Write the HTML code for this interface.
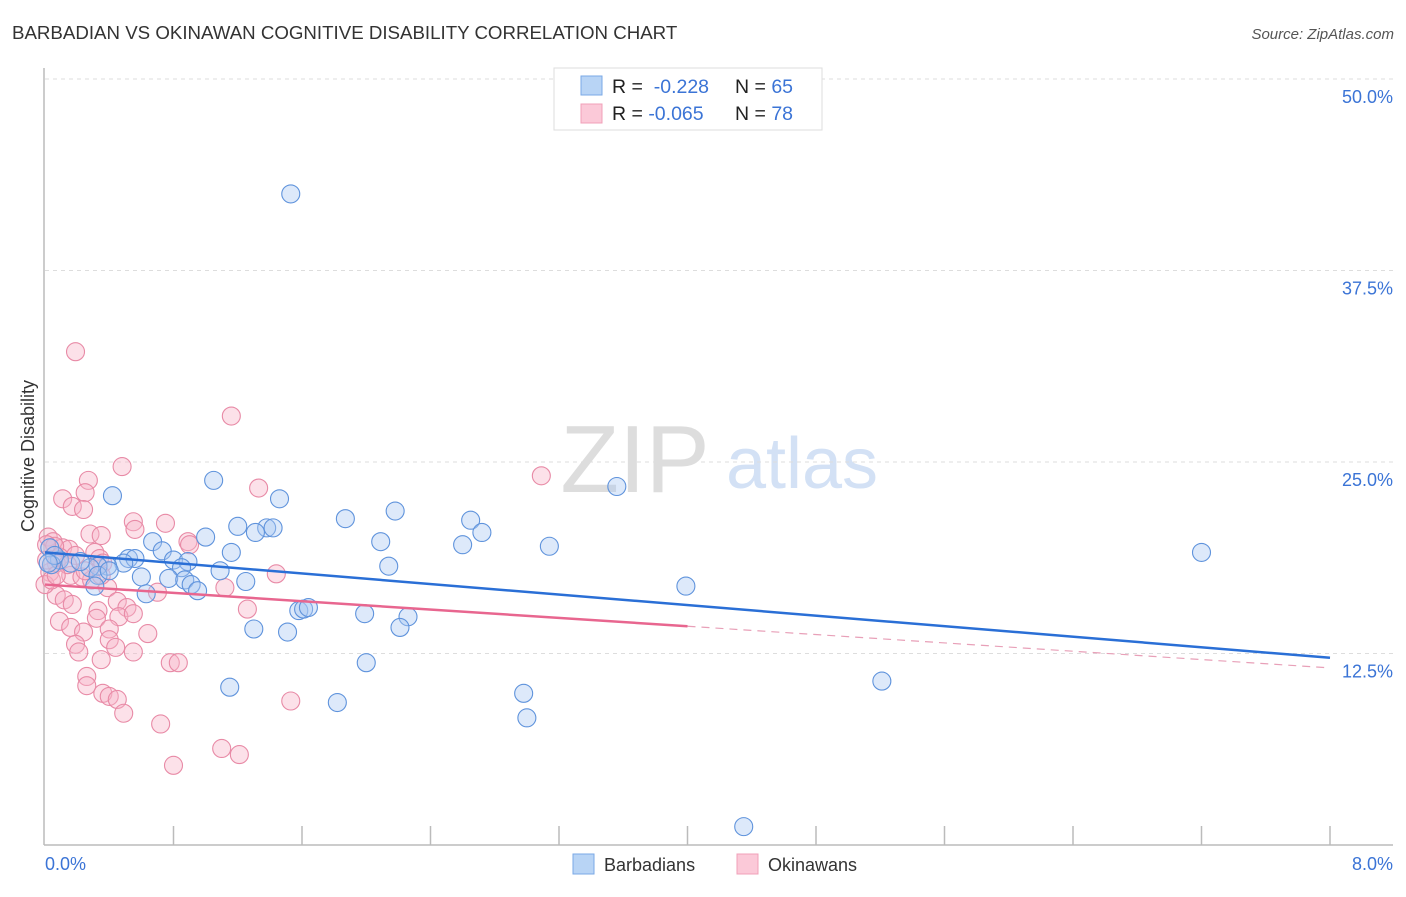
<!DOCTYPE html>
<html><head><meta charset="utf-8"><style>
body{margin:0;background:#fff;font-family:"Liberation Sans",sans-serif;}
svg text{font-family:"Liberation Sans",sans-serif;}
</style></head><body>
<svg id="chart" width="1406" height="892">
<text x="12" y="39" font-size="18.7" fill="#333">BARBADIAN VS OKINAWAN COGNITIVE DISABILITY CORRELATION CHART</text>
<text x="1394" y="39" font-size="15" fill="#555" font-style="italic" text-anchor="end">Source: ZipAtlas.com</text>
<text transform="translate(34,456) rotate(-90)" font-size="18" fill="#333" text-anchor="middle">Cognitive Disability</text>
<text x="635" y="492" font-size="96" fill="#ddd" font-family="Liberation Serif" text-anchor="middle">ZIP</text>
<text x="802" y="488" font-size="72" fill="#d3e1f5" text-anchor="middle">atlas</text>
<g id="grid"></g><g id="axes"></g><g id="pts"></g><g id="lines"></g>
<g>
<rect x="554" y="68" width="268" height="62" fill="#fff" stroke="#ddd"/>
<rect x="581" y="76" width="21" height="19" fill="#b8d4f5" stroke="#7aa8e6"/>
<rect x="581" y="104" width="21" height="19" fill="#fbc9d8" stroke="#f0a0b8"/>
<text x="612" y="93" font-size="19.5" fill="#222">R = <tspan fill="#3b74d6">&#160;-0.228</tspan><tspan x="735">N = </tspan><tspan fill="#3b74d6">65</tspan></text>
<text x="612" y="120" font-size="19.5" fill="#222">R = <tspan fill="#3b74d6">-0.065</tspan><tspan x="735">N = </tspan><tspan fill="#3b74d6">78</tspan></text>
</g>
<g>
<rect x="573" y="854" width="21" height="20" fill="#b8d4f5" stroke="#7aa8e6"/>
<text x="604" y="871" font-size="18" fill="#333">Barbadians</text>
<rect x="737" y="854" width="21" height="20" fill="#fbc9d8" stroke="#f0a0b8"/>
<text x="768" y="871" font-size="18" fill="#333">Okinawans</text>
</g>
</svg>
<script>
const yTicks=[12.5,25,37.5,50];
const yTickLabels=["12.5%","25.0%","37.5%","50.0%"];
const xTickCount=10;
const xLabels=["0.0%","8.0%"];
const blueX=[1.53,0.42,1.05,3.56,1.46,1.20,1.38,1.42,1.31,1.87,2.18,2.65,2.72,2.60,3.14,2.09,1.00,1.16,0.67,0.73,0.52,0.56,0.49,0.80,0.89,0.85,1.09,0.39,0.33,0.28,0.09,0.04,2.14,0.60,0.77,0.87,0.91,0.95,0.63,1.25,0.33,0.31,3.99,1.58,1.61,1.64,1.99,2.26,1.30,1.51,2.21,2.00,1.15,1.82,2.98,3.00,5.21,7.20,4.35,0.03,0.06,0.02,0.16,0.22,0.40];
const blueY=[42.5,22.8,23.8,23.4,22.6,20.8,20.7,20.7,20.4,21.3,21.8,21.2,20.4,19.6,19.5,19.8,20.1,19.1,19.8,19.2,18.7,18.7,18.4,18.6,18.5,18.1,17.9,18.2,18.2,18.1,18.6,18.3,18.2,17.5,17.4,17.3,17.0,16.6,16.4,17.2,17.6,16.9,16.9,15.3,15.4,15.5,15.1,14.9,14.1,13.9,14.2,11.9,10.3,9.3,9.9,8.3,10.7,19.1,1.2,19.4,18.9,18.4,18.4,18.5,17.9];
const pinkX=[0.19,1.16,0.48,3.09,0.27,1.33,0.11,0.25,0.17,0.24,0.55,0.75,0.56,0.28,0.35,0.89,0.90,0.02,0.05,0.11,0.15,0.19,0.31,0.34,0.36,0.09,0.07,0.03,0.16,0.23,0.29,1.44,0.39,1.12,0.70,0.07,0.12,0.17,0.45,0.33,0.51,0.46,0.55,1.26,0.09,0.16,0.24,0.32,0.40,0.64,0.19,0.40,0.21,0.44,0.55,0.35,0.78,0.83,0.26,0.26,0.36,0.40,0.45,0.49,1.53,0.72,1.10,1.21,0.80,0.06,0.01,0.00,0.04,0.14,0.25,0.35,0.01,0.07];
const pinkY=[32.2,28.0,24.7,24.1,23.8,23.3,22.6,23.0,22.1,21.9,21.1,21.0,20.6,20.3,20.2,19.8,19.6,20.1,19.8,19.4,19.3,18.9,19.1,18.7,18.4,18.8,18.4,17.8,17.6,17.5,17.3,17.7,16.8,16.8,16.5,16.3,16.0,15.7,15.9,15.3,15.5,14.9,15.1,15.4,14.6,14.2,13.9,14.8,14.1,13.8,13.1,13.4,12.6,12.9,12.6,12.1,11.9,11.9,11.0,10.4,9.9,9.7,9.5,8.6,9.4,7.9,6.3,5.9,5.2,19.5,19.6,17.0,17.3,18.3,17.9,17.6,18.6,17.6];
const blueTrend=[19.1,-0.86];
const pinkTrend=[17.0,-0.68];
const pinkSolidEnd=4.0;
const X0=45,X1=1330,Y0=845,Y50=79;
const sx=v=>X0+(X1-X0)*v/8;
const sy=v=>Y0-(Y0-Y50)*v/50;
const NS="http://www.w3.org/2000/svg";
function mk(t,a,p){const e=document.createElementNS(NS,t);for(const k in a)e.setAttribute(k,a[k]);p.appendChild(e);return e;}
const grid=document.getElementById('grid'),axes=document.getElementById('axes'),pts=document.getElementById('pts'),lines=document.getElementById('lines');
yTicks.forEach((t,i)=>{
 const g=mk('line',{x1:X0,x2:1393,y1:sy(t),y2:sy(t),stroke:'#ddd','stroke-dasharray':'4,4'},grid);
 
 
 const l=mk('text',{x:1393,y:sy(t)+24,'font-size':18,fill:'#3b74d6','text-anchor':'end'},axes);
 l.textContent=yTickLabels[i];
 
 
});
const ya=mk('line',{x1:X0-1,x2:X0-1,y1:68,y2:Y0,stroke:'#bbb','stroke-width':1.5},axes);


const xa=mk('line',{x1:X0-1,x2:1393,y1:Y0,y2:Y0,stroke:'#bbb','stroke-width':1.5},axes);


for(let i=1;i<=xTickCount;i++){
 const t=mk('line',{x1:sx(i*0.8),x2:sx(i*0.8),y1:826,y2:Y0,stroke:'#bbb','stroke-width':1.5},axes);
 
 
}
const xl0=mk('text',{x:45,y:870,'font-size':18,fill:'#3b74d6'},axes);xl0.textContent=xLabels[0];


const xl1=mk('text',{x:1393,y:870,'font-size':18,fill:'#3b74d6','text-anchor':'end'},axes);xl1.textContent=xLabels[1];


function dots(xs,ys,fill,stroke,name){xs.forEach((x,i)=>{
 const c=mk('circle',{cx:sx(x),cy:sy(ys[i]),r:9,fill:fill,'fill-opacity':0.4,stroke:stroke,'stroke-width':1.1},pts);
 
 
});}
dots(pinkX,pinkY,'#f7b3c7','#e88aa6','okinawan-point');
dots(blueX,blueY,'#a9c9f2','#5f93dc','barbadian-point');
const bl=mk('line',{x1:sx(0),y1:sy(blueTrend[0]),x2:sx(8),y2:sy(blueTrend[0]+8*blueTrend[1]),stroke:'#2a6fd6','stroke-width':2.5},lines);


const pl=mk('line',{x1:sx(0),y1:sy(pinkTrend[0]),x2:sx(pinkSolidEnd),y2:sy(pinkTrend[0]+pinkSolidEnd*pinkTrend[1]),stroke:'#e8668f','stroke-width':2.5},lines);


const pd=mk('line',{x1:sx(pinkSolidEnd),y1:sy(pinkTrend[0]+pinkSolidEnd*pinkTrend[1]),x2:sx(8),y2:sy(pinkTrend[0]+8*pinkTrend[1]),stroke:'#e8a0b8','stroke-width':1.2,'stroke-dasharray':'8,6'},lines);


</script>
</body></html>
